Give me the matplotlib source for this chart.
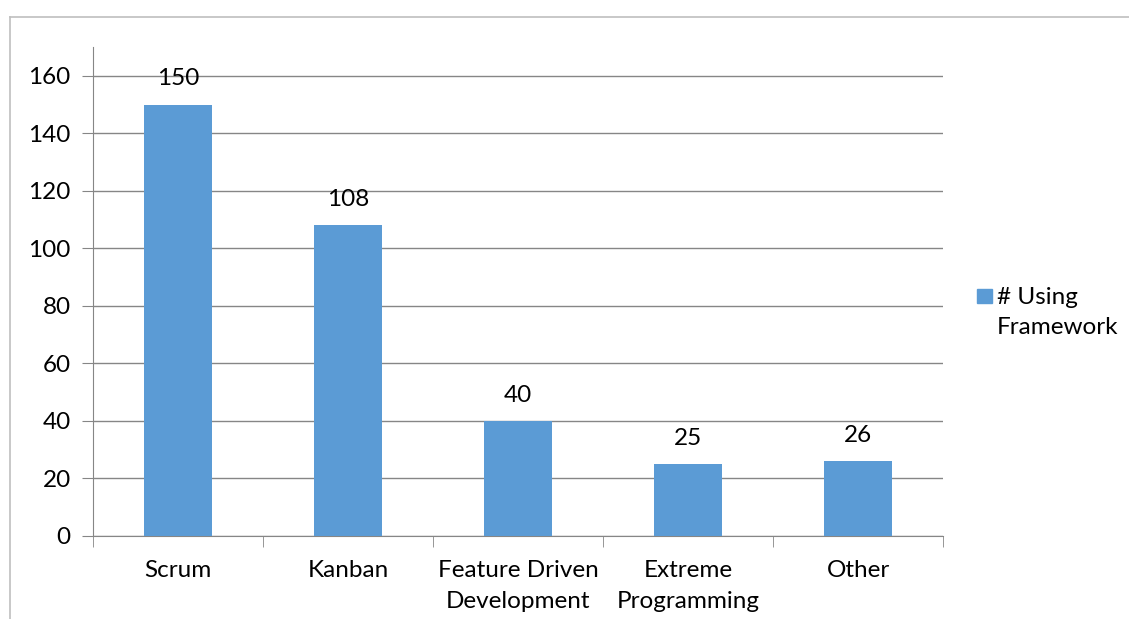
import matplotlib.pyplot as plt
from matplotlib.lines import Line2D
from matplotlib.patches import Rectangle
import numpy as np

plt.rcParams['font.family'] = ['Lato', 'DejaVu Sans']

frameworks = ['Scrum', 'Kanban', 'Feature Driven\nDevelopment', 'Extreme\nProgramming', 'Other']
users = [150, 108, 40, 25, 26]
series_name = ['# Using', 'Framework']

bar_color = '#5B9BD5'
grid_color = '#868686'
W, H = 1129, 619
fs = 17.5

fig = plt.figure(figsize=(W / 100, H / 100), dpi=100)

# chart border (left and top edges visible)
fig.add_artist(Line2D([10 / W, 1], [1 - 17 / H, 1 - 17 / H], color='#BFBFBF', lw=1.2))
fig.add_artist(Line2D([10 / W, 10 / W], [0, 1 - 17 / H], color='#BFBFBF', lw=1.2))

ax = fig.add_axes([93 / W, (H - 536) / H, 850 / W, 489 / H])
x = np.arange(len(frameworks))
ax.bar(x, users, width=0.4, color=bar_color, zorder=3)

for xi, v in zip(x, users):
    ax.text(xi, v + 5.3, str(v), ha='center', va='bottom', fontsize=fs)

ax.set_xlim(-0.5, len(frameworks) - 0.5)
ax.set_ylim(0, 170)
ax.set_yticks(np.arange(0, 161, 20))
ax.yaxis.grid(True, color=grid_color, lw=1)
ax.set_axisbelow(True)

ax.set_xticks(x)
ax.set_xticklabels(frameworks, fontsize=fs, linespacing=1.6)
ax.tick_params(axis='x', length=0, pad=17)
ax.set_xticks(np.arange(-0.5, len(frameworks)), minor=True)
ax.tick_params(axis='x', which='minor', length=8, color=grid_color, direction='out')
ax.tick_params(axis='y', length=8, color=grid_color, labelsize=fs, pad=8)

for side in ['top', 'right']:
    ax.spines[side].set_visible(False)
for side in ['left', 'bottom']:
    ax.spines[side].set_color(grid_color)

# legend: square key beside the first line of the series name
fig.add_artist(Rectangle((977 / W, 1 - 303 / H), 15 / W, 14 / H, color=bar_color,
                         transform=fig.transFigure))
fig.text(997 / W, 1 - 297 / H, series_name[0], fontsize=fs, va='center', ha='left')
fig.text(997 / W, 1 - 328 / H, series_name[1], fontsize=fs, va='center', ha='left')

fig.savefig('out.png', dpi=100)
